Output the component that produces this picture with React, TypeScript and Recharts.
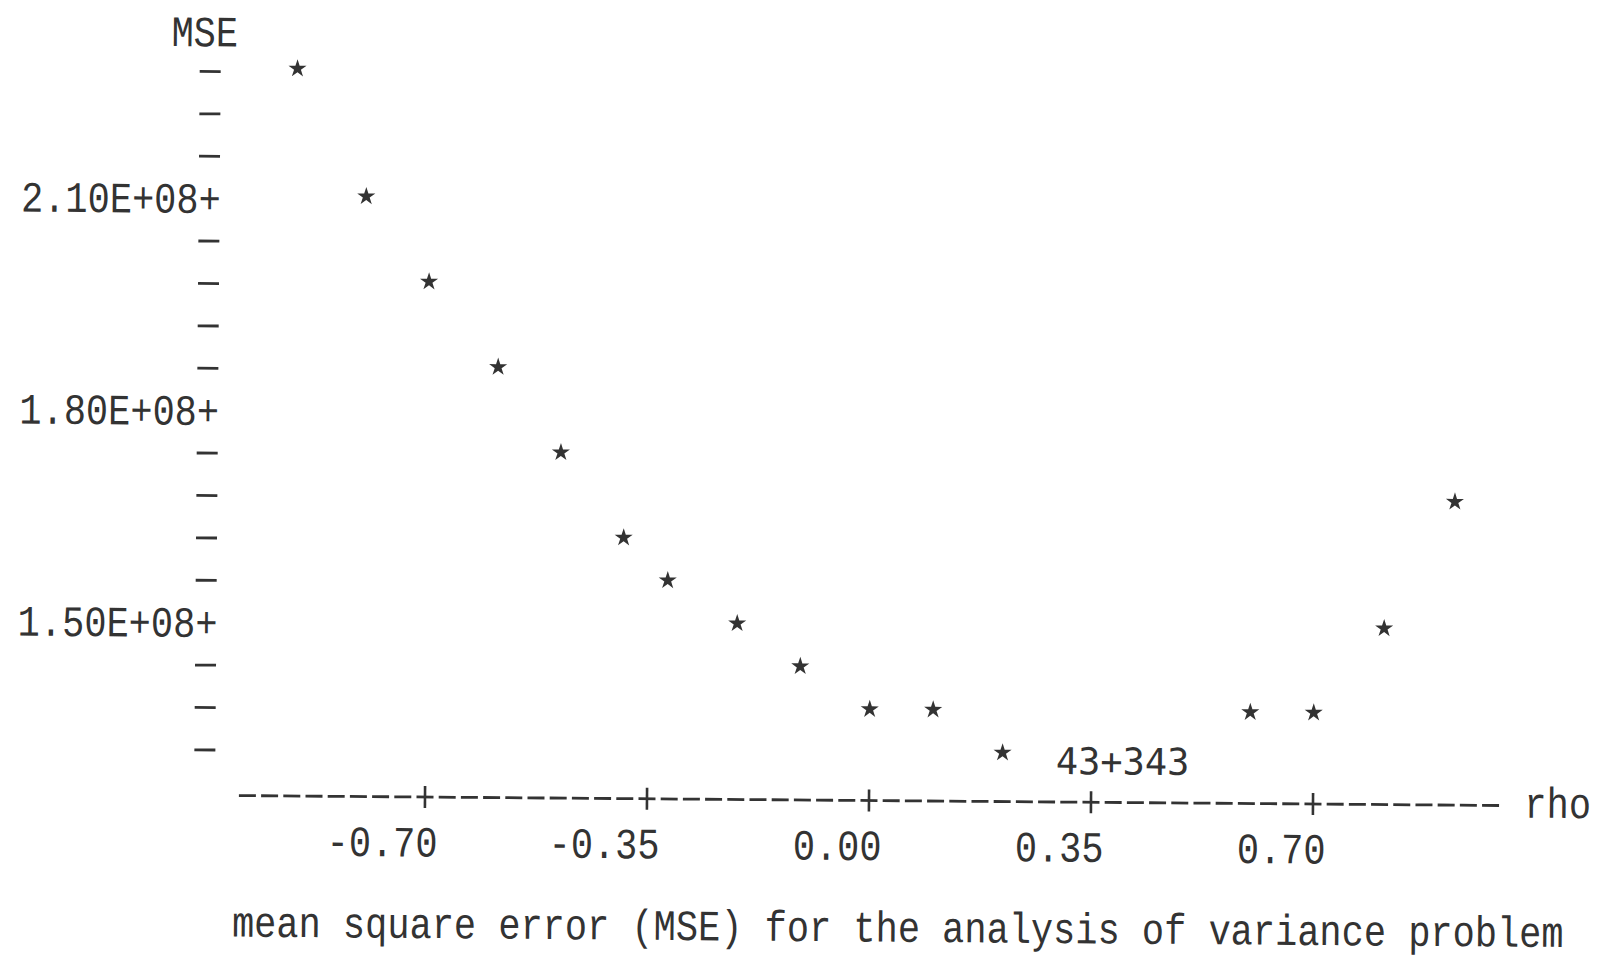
import React from 'react';
import { ScatterChart, Scatter, XAxis, YAxis } from 'recharts';

// values
const rhoValues = [-0.91, -0.8, -0.7, -0.59, -0.49, -0.39, -0.32, -0.21, -0.11, 0, 0.1, 0.21, 0.6, 0.7, 0.81, 0.92];
const mseValues = [
  228000000, 210000000, 198000000, 186000000, 174000000, 162000000, 156000000, 150000000,
  144000000, 138000000, 138000000, 132000000, 138000000, 138000000, 150000000, 168000000
];

const xTicks = [-0.7, -0.35, 0, 0.35, 0.7];
const xTickLabels = ['-0.70', '-0.35', '0.00', '0.35', '0.70'];

const yTicks = [
  132000000, 138000000, 144000000, 150000000, 156000000, 162000000, 168000000, 174000000, 180000000,
  186000000, 192000000, 198000000, 204000000, 210000000, 216000000, 222000000, 228000000
];
const yLabelledTicks = [150000000, 180000000, 210000000];
const yTickLabels = ['1.50E+08', '1.80E+08', '2.10E+08'];

const data = rhoValues.map((rho, i) => ({ rho, mse: mseValues[i] }));

const INK = '#333';
const MONO = "'Liberation Mono', 'Courier New', monospace";
const FS = 37;
const SY = 1.17;

const PrinterText = ({ x, y, anchor = 'start', children, family = MONO, sy = SY }: any) => (
  <text
    transform={`translate(${x},${y}) scale(1,${sy})`}
    x={0}
    y={0}
    textAnchor={anchor}
    fontFamily={family}
    fontSize={FS}
    fill={INK}
  >
    {children}
  </text>
);

const XTick = (props: any) => {
  const { x, y, payload } = props;
  const idx = xTicks.indexOf(payload.value);
  return (
    <g>
      <line x1={x} x2={x} y1={y - 11} y2={y + 11} stroke={INK} strokeWidth={2.6} />
      <PrinterText x={x + 13} y={y + 59.6} anchor="end">
        {xTickLabels[idx]}
      </PrinterText>
    </g>
  );
};

const YTick = (props: any) => {
  const { x, y, payload } = props;
  const idx = yLabelledTicks.indexOf(payload.value);
  if (idx >= 0) {
    return (
      <PrinterText x={x - 18.6} y={y + 14.3} anchor="end">
        {yTickLabels[idx] + '+'}
      </PrinterText>
    );
  }
  return <line x1={x - 40.7} x2={x - 19.7} y1={y} y2={y} stroke={INK} strokeWidth={2.8} />;
};

const StarShape = (props: any) => {
  const { cx, cy } = props;
  const c = cy - 3.5;
  const pts: string[] = [];
  for (let k = 0; k < 10; k++) {
    const r = k % 2 === 0 ? 9.5 : 3.6;
    const a = -Math.PI / 2 + (k * Math.PI) / 5;
    pts.push(`${(cx + r * Math.cos(a)).toFixed(2)},${(c + r * Math.sin(a)).toFixed(2)}`);
  }
  return <polygon points={pts.join(' ')} fill={INK} />;
};

export default function App() {
  return (
    <div style={{ position: 'absolute', left: 0, top: 0, width: 1606, height: 959, overflow: 'hidden', background: '#fff' }}>
      <div
        style={{
          position: 'absolute',
          left: 0,
          top: 0,
          width: 1606,
          height: 959,
          transform: 'rotate(0.45deg)',
          transformOrigin: '803px 480px'
        }}
      >
        <ScatterChart width={1606} height={959} margin={{ top: 62, right: 100.2, bottom: 0, left: 0 }}>
          <XAxis
            type="number"
            dataKey="rho"
            domain={[-1, 1]}
            ticks={xTicks}
            interval={0}
            allowDataOverflow
            height={159}
            tickSize={0}
            tickMargin={0}
            tickLine={false}
            axisLine={{ stroke: INK, strokeWidth: 2.8, strokeDasharray: '17 5.2', strokeDashoffset: 18 }}
            tick={(p: any) => <XTick {...p} />}
          />
          <YAxis
            type="number"
            dataKey="mse"
            domain={[125580000, 230000000]}
            ticks={yTicks}
            interval={0}
            allowDataOverflow
            width={237.2}
            tickSize={0}
            tickMargin={0}
            tickLine={false}
            axisLine={false}
            tick={(p: any) => <YTick {...p} />}
          />
          <Scatter data={data} shape={(p: any) => <StarShape {...p} />} isAnimationActive={false} />
        </ScatterChart>
        <svg width={1606} height={959} style={{ position: 'absolute', left: 0, top: 0, pointerEvents: 'none' }}>
          <PrinterText x={168} y={51}>MSE</PrinterText>
          <PrinterText x={1527} y={812}>rho</PrinterText>
          <PrinterText x={1058} y={772} family="'DejaVu Sans Mono', monospace" sy={1}>
            43+343
          </PrinterText>
          <PrinterText x={235.5} y={941}>
            mean square error (MSE) for the analysis of variance problem
          </PrinterText>
        </svg>
      </div>
    </div>
  );
}
